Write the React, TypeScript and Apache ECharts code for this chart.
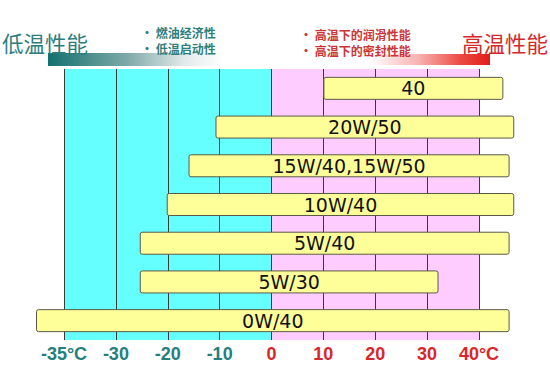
import React, { useEffect, useRef } from "react";
import * as echarts from "echarts";

// Axis tick labels (evenly spaced slots 0..8 on the chart)
const tickLabels = ["-35°C", "-30", "-20", "-10", "0", "10", "20", "30", "40°C"];
// Oil grades, top to bottom
const grades = ["40", "20W/50", "15W/40,15W/50", "10W/40", "5W/40", "5W/30", "0W/40"];
// Bar extents in axis-slot units (0 = -35°C ... 8 = 40°C)
const barStart = [5.01, 2.93, 2.41, 1.99, 1.47, 1.47, -0.53];
const barEnd = [8.46, 8.67, 8.58, 8.67, 8.58, 7.21, 8.58];
// Zones
const coldZone = [0, 4];
const hotZone = [4, 8];
const gridSlots = [0, 1, 2, 3, 4, 5, 6, 7, 8];

const leftTitle = "低温性能";
const rightTitle = "高温性能";
const leftBullets = ["• 燃油经济性", "• 低温启动性"];
const rightBullets = ["• 高温下的润滑性能", "• 高温下的密封性能"];

export default function App() {
  const ref = useRef<HTMLDivElement>(null);
  useEffect(() => {
    if (!ref.current) return;
    const chart = echarts.init(ref.current, undefined, { renderer: "svg" });
    const cjk = "'Noto Sans CJK SC', sans-serif";
    const option: any = {
      animation: false,
      backgroundColor: "#ffffff",
      grid: { left: 12.125, right: 19.125, top: 69, bottom: 41 },
      xAxis: {
        type: "value",
        min: -1,
        max: 9,
        interval: 1,
        axisLine: { show: false },
        axisTick: { show: false },
        splitLine: { show: false },
        axisLabel: {
          margin: 5,
          showMinLabel: true,
          showMaxLabel: true,
          formatter: (v: number) => {
            const i = Math.round(v);
            if (i < 0 || i > 8) return "";
            return (i < 4 ? "{c|" : "{h|") + tickLabels[i] + "}";
          },
          rich: {
            c: { color: "#23807c", fontWeight: "bold", fontSize: 18, fontFamily: "'Liberation Sans', Arial, sans-serif" },
            h: { color: "#d9262a", fontWeight: "bold", fontSize: 18, fontFamily: "'Liberation Sans', Arial, sans-serif" },
          },
        },
      },
      yAxis: {
        type: "category",
        data: grades,
        inverse: true,
        show: false,
      },
      graphic: [
        {
          type: "rect",
          shape: { x: 48, y: 53, width: 175, height: 13 },
          style: {
            fill: new echarts.graphic.LinearGradient(0, 0, 1, 0, [
              { offset: 0, color: "#12706e" },
              { offset: 0.45, color: "#7ea9a8" },
              { offset: 0.78, color: "#e2eaea" },
              { offset: 1, color: "#ffffff" },
            ]),
          },
          z: 1,
        },
        {
          type: "rect",
          shape: { x: 370, y: 54, width: 120, height: 11 },
          style: {
            fill: new echarts.graphic.LinearGradient(0, 0, 1, 0, [
              { offset: 0, color: "#ffffff" },
              { offset: 0.4, color: "#f7b4b2" },
              { offset: 0.75, color: "#ec4b45" },
              { offset: 1, color: "#e31c18" },
            ]),
          },
          z: 1,
        },
        {
          type: "text",
          x: 2,
          y: 42,
          style: { text: leftTitle, fill: "#2b7e7c", fontSize: 21.5, fontFamily: cjk, verticalAlign: "middle" },
          z: 5,
        },
        {
          type: "text",
          x: 548,
          y: 42,
          style: { text: rightTitle, fill: "#d42a2a", fontSize: 21.5, fontFamily: cjk, align: "right", verticalAlign: "middle" },
          z: 5,
        },
        ...leftBullets.map((t, i) => ({
          type: "text",
          x: 141,
          y: 32.5 + i * 15.5,
          style: { text: t, fill: "#2f7f7d", fontSize: 12, lineHeight: 14, fontWeight: "bold", fontFamily: cjk, verticalAlign: "middle" },
          z: 5,
        })),
        ...rightBullets.map((t, i) => ({
          type: "text",
          x: 300,
          y: 34.5 + i * 15.5,
          style: { text: t, fill: "#cc3535", fontSize: 12, lineHeight: 14, fontWeight: "bold", fontFamily: cjk, verticalAlign: "middle" },
          z: 5,
        })),
      ],
      series: [
        {
          type: "line",
          data: [],
          silent: true,
          z: 0,
          markArea: {
            silent: true,
            label: { show: false },
            data: [
              [{ xAxis: coldZone[0], itemStyle: { color: "#66ffff" } }, { xAxis: coldZone[1] }],
              [{ xAxis: hotZone[0], itemStyle: { color: "#ffccff" } }, { xAxis: hotZone[1] }],
            ],
          },
          markLine: {
            silent: true,
            symbol: ["none", "none"],
            label: { show: false },
            lineStyle: { color: "#3a3a3a", width: 1, type: "solid" },
            data: gridSlots.map((v) => ({ xAxis: v })),
          },
        },
        {
          type: "custom",
          z: 10,
          encode: { x: [0, 1], y: 2 },
          data: grades.map((g, i) => [barStart[i], barEnd[i], i]),
          renderItem: (params: any, api: any) => {
            const s = api.coord([api.value(0), api.value(2)]);
            const e = api.coord([api.value(1), api.value(2)]);
            const h = 22;
            return {
              type: "rect",
              shape: { x: s[0], y: s[1] - h / 2, width: e[0] - s[0], height: h, r: 2 },
              style: { fill: "#ffff99", stroke: "#5a5a48", lineWidth: 1 },
              textContent: {
                style: {
                  text: grades[params.dataIndex],
                  fontSize: 19,
                  fontFamily: "'DejaVu Sans', sans-serif",
                  fill: "#111111",
                },
              },
              textConfig: { position: "inside" },
            };
          },
        },
      ],
    };
    chart.setOption(option);
    return () => chart.dispose();
  }, []);
  return (
    <div
      ref={ref}
      style={{ position: "fixed", left: 0, top: 0, width: 550, height: 381 }}
    />
  );
}
